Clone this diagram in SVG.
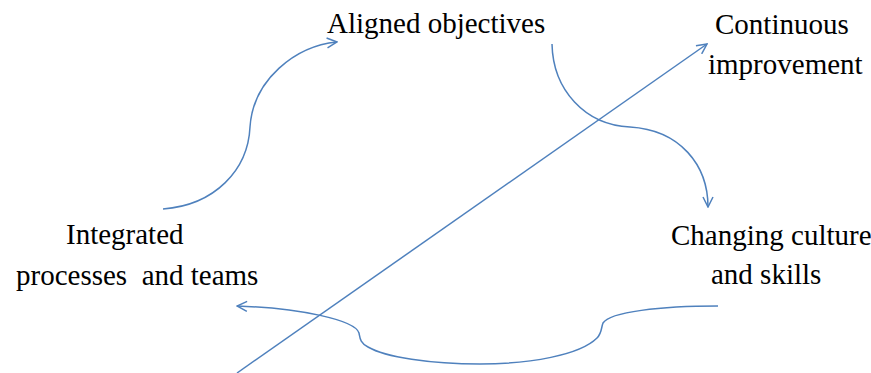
<svg xmlns="http://www.w3.org/2000/svg" width="871" height="373" viewBox="0 0 871 373">
  <style>
    text { font-family: 'Liberation Serif', 'Times New Roman', serif; font-size: 29px; fill: #000; white-space: pre; }
    .link { fill: none; stroke: #4F81BD; stroke-width: 1.5; }
  </style>
  <defs>
    <!-- open chevron arrowhead shared by all connectors -->
    <marker id="arrow" viewBox="0 0 12 12" refX="11" refY="6" markerWidth="12" markerHeight="12" markerUnits="userSpaceOnUse" orient="auto">
      <path d="M1,1 L11,6 L1,11" fill="none" stroke="#4F81BD" stroke-width="1.5"/>
    </marker>
  </defs>
  <rect width="871" height="373" fill="#fff"/>

  <g id="connectors">
    <!-- integrated processes -> aligned objectives -->
    <path class="link" marker-end="url(#arrow)" d="M163,209 C215,205 248,170 250,127 C253,80 295,46 337,42"/>
    <!-- aligned objectives -> changing culture -->
    <path class="link" marker-end="url(#arrow)" d="M552,44 C553,90 585,125 630,127 C680,130 708,165 708,207"/>
    <!-- long diagonal to continuous improvement -->
    <path class="link" marker-end="url(#arrow)" d="M237,373 L707,44"/>
    <!-- changing culture -> integrated processes -->
    <path class="link" marker-end="url(#arrow)" d="M718,306 C660,306 610,312 603,323 C601,328 602,333 597,338 C580,355 530,364 480,364 C430,364 385,357 368,347 C360,343 360,338 359,333 C355,320 300,308 237,306"/>
  </g>

  <g id="aligned-objectives">
    <text x="327" y="33">Aligned objectives</text>
  </g>
  <g id="continuous-improvement">
    <text x="715" y="34">Continuous</text>
    <text x="708" y="74">improvement</text>
  </g>
  <g id="changing-culture">
    <text x="671" y="245">Changing culture</text>
    <text x="711" y="284">and skills</text>
  </g>
  <g id="integrated-processes">
    <text x="66" y="244">Integrated</text>
    <text x="16" y="285">processes  and teams</text>
  </g>
</svg>
